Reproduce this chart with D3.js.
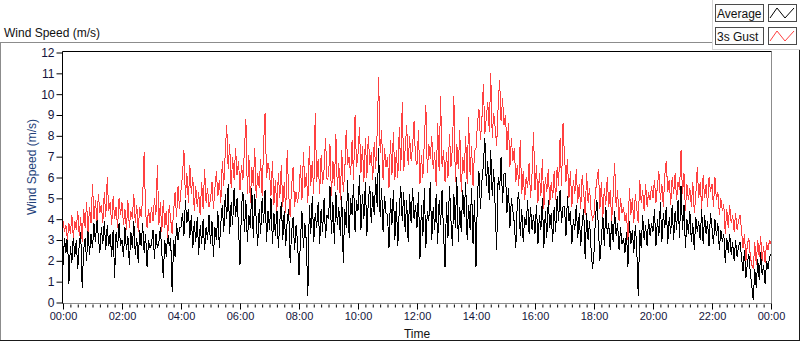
<!DOCTYPE html>
<html>
<head>
<meta charset="utf-8">
<script src="https://cdn.jsdelivr.net/npm/d3@7"></script>
<style>
  body { margin: 0; background: #fff; }
  svg { display: block; }
  text { font-family: "Liberation Sans", Arial, sans-serif; }
</style>
</head>
<body>
<svg id="chart" width="800" height="342"></svg>
<script>
// one sample every 3 minutes, 00:00 -> 24:00 (20 values per hour row)
const sampleMinutes = 3

const average = [
  1.8, 3.1, 2.4, 3.3, 0.9, 2.7, 1.9, 3.2, 2.2, 3.0, 1.6, 2.8, 3.4, 0.7, 2.5, 3.1, 2.0, 3.5, 2.3, 3.3,
  2.6, 3.8, 2.9, 4.0, 3.1, 2.4, 3.6, 2.8, 3.9, 2.5, 3.7, 2.7, 3.3, 2.2, 3.5, 1.2, 3.4, 2.6, 3.8, 2.7,
  3.0, 2.2, 3.6, 2.5, 3.2, 1.8, 3.4, 2.6, 3.9, 2.3, 3.1, 1.9, 3.5, 2.7, 3.8, 2.4, 3.3, 1.7, 3.0, 2.6,
  2.8, 3.5, 2.1, 3.3, 2.6, 2.9, 3.6, 2.4, 1.2, 3.0, 2.2, 3.4, 2.7, 3.1, 0.5, 3.0, 2.2, 3.8, 3.0, 3.6,
  3.6, 4.3, 3.2, 4.9, 3.8, 4.5, 3.1, 4.2, 2.6, 3.9, 2.9, 4.1, 2.3, 3.7, 2.8, 4.0, 2.5, 3.6, 3.0, 4.2,
  2.8, 3.9, 2.2, 3.6, 3.0, 4.4, 2.6, 3.8, 4.7, 3.4, 5.2, 4.0, 5.7, 3.3, 4.8, 3.7, 5.5, 4.1, 5.0, 3.6,
  1.8, 4.6, 5.3, 3.4, 4.9, 2.9, 4.2, 3.6, 5.5, 3.1, 5.2, 4.0, 2.7, 4.5, 3.3, 5.0, 3.8, 5.4, 2.9, 4.4,
  3.5, 5.0, 2.8, 4.3, 3.2, 4.6, 2.6, 3.9, 4.8, 3.0, 4.4, 2.7, 3.9, 4.5, 1.9, 3.4, 4.1, 2.5, 3.7, 2.9,
  1.3, 3.0, 4.4, 2.6, 3.8, 2.9, 0.3, 4.7, 3.3, 5.1, 2.9, 4.3, 3.6, 4.8, 2.8, 4.5, 3.4, 5.0, 3.1, 4.2,
  4.0, 5.6, 3.3, 4.8, 2.8, 5.3, 3.7, 4.6, 3.2, 5.1, 1.9, 4.5, 3.6, 5.9, 3.1, 5.0, 4.2, 5.7, 3.4, 4.9,
  4.4, 6.1, 3.5, 5.2, 4.0, 5.8, 3.2, 4.9, 5.6, 3.8, 5.3, 4.2, 6.0, 4.6, 7.4, 4.1, 5.5, 3.4, 5.1, 4.3,
  4.2, 2.6, 5.0, 3.7, 5.4, 3.0, 4.8, 2.7, 4.5, 5.6, 3.9, 5.3, 3.4, 4.9, 2.9, 5.2, 3.8, 5.5, 4.0, 4.7,
  3.6, 5.3, 2.1, 4.7, 3.2, 5.5, 2.6, 4.4, 3.9, 5.8, 3.0, 4.6, 3.5, 5.2, 2.8, 4.9, 3.7, 5.4, 3.3, 1.7,
  4.8, 3.1, 5.6, 4.0, 2.7, 5.2, 3.6, 6.0, 2.9, 4.6, 3.4, 5.4, 4.1, 5.8, 3.0, 4.7, 3.5, 5.5, 2.8, 4.9,
  1.7, 5.2, 6.3, 4.5, 5.8, 6.6, 7.9, 5.6, 6.8, 4.9, 7.3, 5.1, 6.4, 4.6, 2.5, 6.0, 5.4, 7.0, 4.8, 6.2,
  6.2, 4.3, 5.5, 3.6, 5.0, 4.4, 3.8, 2.6, 4.8, 5.3, 3.2, 4.5, 2.9, 4.1, 3.7, 4.9, 3.3, 4.6, 3.5, 4.2,
  3.3, 4.7, 2.8, 4.2, 3.5, 5.0, 2.6, 4.4, 3.1, 4.9, 3.6, 4.3, 2.9, 4.6, 3.4, 5.1, 3.9, 5.4, 3.8, 4.6,
  4.6, 3.2, 5.1, 3.9, 4.4, 2.8, 4.0, 3.5, 4.7, 3.1, 4.3, 2.7, 3.8, 4.5, 2.1, 4.3, 3.0, 3.9, 2.6, 1.6,
  2.4, 4.1, 4.9, 3.6, 2.0, 3.0, 4.2, 2.7, 4.6, 3.3, 3.8, 2.5, 4.0, 2.9, 4.4, 3.2, 3.8, 2.5, 3.6, 2.8,
  3.1, 2.4, 3.4, 1.7, 3.9, 2.8, 3.5, 2.4, 3.7, 2.6, 0.3, 3.5, 2.6, 4.2, 3.0, 3.7, 2.7, 4.0, 3.2, 3.8,
  3.4, 4.5, 2.7, 4.0, 3.2, 4.8, 2.9, 4.3, 3.6, 4.6, 2.8, 4.1, 3.3, 4.7, 3.0, 4.4, 3.5, 4.9, 3.1, 5.6,
  3.5, 4.7, 2.6, 4.0, 3.3, 4.4, 2.9, 3.8, 2.5, 4.1, 3.4, 3.9, 3.0, 4.5, 2.8, 4.2, 3.3, 3.9, 2.7, 4.3,
  3.6, 2.8, 4.0, 3.2, 3.8, 2.5, 3.5, 2.9, 3.3, 1.9, 3.1, 2.4, 3.3, 2.3, 2.9, 2.0, 3.0, 2.2, 2.7, 2.9,
  2.2, 1.5, 2.5, 1.2, 1.9, 2.3, 1.4, 0.8, 0.1, 1.6, 0.7, 2.1, 1.1, 2.4, 1.3, 1.8, 0.9, 2.0, 1.6, 2.2,
  2.3
]

const gust = [
  3.9, 3.4, 3.7, 3.0, 3.8, 3.3, 4.2, 3.1, 3.9, 3.5, 4.4, 3.2, 4.1, 2.9, 4.5, 3.6, 4.8, 3.4, 4.6, 3.8,
  5.7, 4.0, 4.9, 3.9, 5.2, 4.3, 4.7, 3.8, 5.3, 4.1, 6.0, 4.4, 4.8, 3.7, 5.1, 4.0, 4.6, 3.6, 5.0, 4.2,
  4.8, 3.7, 4.5, 3.5, 4.9, 3.6, 4.4, 4.0, 5.2, 3.8, 4.7, 3.4, 4.6, 4.1, 5.0, 7.2, 4.3, 3.6, 4.5, 3.8,
  4.6, 3.9, 5.0, 4.2, 6.6, 3.7, 4.8, 3.4, 4.9, 3.6, 4.4, 3.1, 4.7, 4.0, 3.3, 4.4, 5.3, 4.1, 5.6, 4.5,
  5.4, 6.1, 7.3, 5.0, 6.2, 4.8, 6.6, 5.2, 6.0, 4.4, 5.6, 4.6, 5.3, 4.2, 5.8, 4.5, 6.4, 4.8, 5.5, 4.6,
  4.9, 5.8, 4.5, 5.5, 6.3, 5.1, 5.9, 4.8, 6.8, 5.6, 7.2, 8.5, 6.4, 7.6, 5.5, 7.0, 5.9, 7.4, 6.1, 6.8,
  5.4, 6.6, 5.9, 7.3, 8.8, 5.2, 7.1, 4.8, 6.5, 5.6, 7.4, 5.0, 6.2, 5.5, 6.9, 5.1, 7.6, 9.1, 6.0, 6.7,
  6.3, 5.1, 6.8, 4.7, 5.9, 4.4, 6.2, 5.0, 6.6, 4.6, 5.8, 4.3, 7.3, 5.2, 4.1, 5.6, 6.5, 4.6, 5.3, 4.8,
  5.3, 6.6, 4.9, 7.2, 5.5, 6.2, 4.8, 7.5, 5.6, 6.8, 5.2, 9.1, 5.8, 6.9, 5.2, 7.1, 5.7, 6.4, 7.9, 5.9,
  6.0, 7.6, 5.1, 6.8, 5.6, 8.1, 5.4, 6.7, 4.9, 7.3, 5.3, 6.2, 8.3, 6.6, 7.0, 6.1, 7.8, 5.9, 9.0, 6.5,
  7.1, 8.4, 6.2, 7.5, 5.8, 7.9, 6.0, 8.0, 6.6, 7.2, 5.9, 7.7, 6.4, 8.2, 10.8, 7.2, 8.3, 5.9, 7.4, 6.5,
  7.0, 5.5, 7.8, 6.1, 8.2, 5.9, 7.3, 6.0, 8.4, 6.3, 9.6, 6.3, 7.4, 8.5, 6.6, 8.0, 6.8, 7.5, 8.7, 6.9,
  6.6, 8.3, 5.7, 7.1, 6.0, 7.8, 9.5, 6.2, 7.6, 6.9, 8.0, 6.4, 7.2, 5.6, 8.6, 6.3, 9.9, 6.5, 7.3, 5.8,
  7.2, 6.0, 8.1, 6.5, 7.4, 9.9, 5.8, 7.6, 6.4, 8.3, 5.3, 7.0, 6.2, 8.0, 5.7, 8.9, 6.1, 7.5, 5.6, 7.3,
  7.4, 8.6, 9.3, 7.8, 8.8, 10.5, 8.1, 8.9, 9.6, 8.2, 11.0, 7.9, 9.1, 8.4, 7.5, 9.4, 10.7, 8.7, 9.8, 8.5,
  9.0, 7.3, 8.6, 6.5, 7.9, 6.8, 7.4, 5.8, 6.6, 5.6, 7.8, 5.2, 6.3, 4.9, 6.0, 5.5, 6.7, 5.0, 6.2, 8.2,
  5.4, 6.6, 4.8, 6.2, 5.1, 6.9, 4.5, 6.0, 5.3, 6.4, 4.7, 5.8, 5.0, 6.3, 4.9, 6.5, 5.6, 7.9, 5.6, 8.6,
  7.0, 5.8, 6.9, 5.0, 6.3, 4.6, 5.9, 5.2, 6.4, 4.8, 5.7, 4.5, 6.1, 5.3, 4.2, 6.2, 4.8, 5.5, 4.4, 4.0,
  4.2, 5.3, 5.9, 6.4, 4.5, 5.8, 4.1, 5.5, 4.7, 6.0, 4.6, 5.4, 3.9, 5.2, 6.7, 4.6, 5.4, 3.9, 5.0, 4.3,
  4.6, 3.9, 4.3, 3.0, 5.5, 4.2, 5.0, 3.8, 5.2, 4.5, 3.8, 5.9, 4.8, 5.4, 4.4, 5.7, 4.6, 5.3, 4.9, 5.6,
  5.0, 5.9, 4.8, 5.6, 6.3, 4.9, 5.7, 4.6, 6.1, 6.8, 5.3, 5.9, 4.7, 6.0, 5.2, 6.2, 4.9, 5.8, 5.4, 7.3,
  5.2, 6.2, 4.4, 5.7, 4.9, 5.5, 4.6, 5.8, 4.3, 5.1, 6.5, 5.0, 5.8, 4.5, 6.1, 5.0, 5.7, 4.6, 6.0, 5.3,
  5.7, 4.6, 6.0, 4.9, 5.3, 4.2, 5.0, 4.4, 4.7, 3.3, 4.5, 3.6, 4.7, 3.8, 4.2, 3.4, 4.3, 3.5, 3.9, 4.2,
  3.5, 2.6, 3.3, 2.0, 2.8, 3.1, 2.2, 1.8, 1.6, 2.9, 1.8, 3.0, 2.2, 3.2, 2.0, 2.7, 1.9, 2.9, 2.5, 3.0,
  2.8
]

const yTicks = [0, 1, 2, 3, 4, 5, 6, 7, 8, 9, 10, 11, 12]
const timeTicks = [0, 2, 4, 6, 8, 10, 12, 14, 16, 18, 20, 22, 24]
const timeLabels = ['00:00', '02:00', '04:00', '06:00', '08:00', '10:00', '12:00',
                    '14:00', '16:00', '18:00', '20:00', '22:00', '00:00']
const seriesNames = ['Average', '3s Gust']
const seriesColors = ['#000000', '#ff4040']

const svg = d3.select('#chart')

const plot = { left: 62.5, right: 771.5, top: 51.5, bottom: 303.5 }

const xScale = d3.scaleLinear().domain([0, 24]).range([63, 771])
const yScale = d3.scaleLinear().domain([0, 12]).range([302.5, 52.5])

// outer panel
svg.append('line').attr('x1', 0).attr('x2', 712).attr('y1', 42.5).attr('y2', 42.5).attr('stroke', '#8c8c8c')
svg.append('line').attr('x1', 0.5).attr('x2', 0.5).attr('y1', 42).attr('y2', 341).attr('stroke', '#8c8c8c')
svg.append('line').attr('x1', 0).attr('x2', 800).attr('y1', 340.5).attr('y2', 340.5).attr('stroke', '#1a1a1a')
svg.append('line').attr('x1', 799.5).attr('x2', 799.5).attr('y1', 49).attr('y2', 341).attr('stroke', '#1a1a1a')

svg.append('text')
    .attr('x', 4).attr('y', 36.5)
    .attr('font-size', 12).attr('fill', '#111')
    .text('Wind Speed (m/s)')

// legend panel
svg.append('line').attr('x1', 712.5).attr('x2', 712.5).attr('y1', 0).attr('y2', 49.5).attr('stroke', '#d4d4d4')
svg.append('line').attr('x1', 712).attr('x2', 800).attr('y1', 49.5).attr('y2', 49.5).attr('stroke', '#d4d4d4')

const legend = svg.append('g')
seriesNames.forEach((name, i) => {
    const y0 = 4 + i * 23
    legend.append('rect')
        .attr('x', 715.5).attr('y', y0 + 0.5).attr('width', 48).attr('height', 17)
        .attr('fill', '#fcfcfc').attr('stroke', '#4a4a4a')
    legend.append('text')
        .attr('x', 717).attr('y', y0 + 13.5)
        .attr('font-size', 12).attr('fill', '#111')
        .text(name)
    legend.append('rect')
        .attr('x', 768.5).attr('y', y0 + 0.5).attr('width', 28).attr('height', 17)
        .attr('fill', '#fff').attr('stroke', '#4a4a4a')
    legend.append('path')
        .attr('d', d3.line()([[770, y0 + 14], [777, y0 + 4], [785, y0 + 14], [794, y0 + 4]]))
        .attr('fill', 'none').attr('stroke', seriesColors[i]).attr('stroke-width', 1)
})

// plot frame
svg.append('rect')
    .attr('x', plot.left).attr('y', plot.top)
    .attr('width', plot.right - plot.left).attr('height', plot.bottom - plot.top)
    .attr('fill', '#fff')
svg.append('line').attr('x1', plot.left).attr('x2', plot.right).attr('y1', plot.bottom).attr('y2', plot.bottom).attr('stroke', '#8c8c8c')
svg.append('line').attr('x1', plot.right).attr('x2', plot.right).attr('y1', plot.top).attr('y2', plot.bottom).attr('stroke', '#8c8c8c')

svg.append('clipPath').attr('id', 'clip')
    .append('rect')
    .attr('x', plot.left).attr('y', plot.top)
    .attr('width', plot.right - plot.left).attr('height', plot.bottom - plot.top)

const timeOf = i => i * sampleMinutes / 60
const lineGenerator = d3.line()
    .x((d, i) => xScale(timeOf(i)))
    .y(d => yScale(d))

const lines = svg.append('g').attr('clip-path', 'url(#clip)')
;[average, gust].forEach((series, i) => {
    lines.append('path')
        .attr('d', lineGenerator(series))
        .attr('fill', 'none')
        .attr('stroke', seriesColors[i])
        .attr('stroke-width', 1)
        .attr('shape-rendering', 'crispEdges')
})

svg.append('line').attr('x1', plot.left).attr('x2', plot.right).attr('y1', plot.top).attr('y2', plot.top).attr('stroke', '#000')
svg.append('line').attr('x1', plot.left).attr('x2', plot.left).attr('y1', plot.top).attr('y2', plot.bottom).attr('stroke', '#000')

// y axis
const yAxis = d3.axisLeft(yScale)
    .tickValues(yTicks)
    .tickSize(6)
    .tickPadding(2)
    .tickFormat(d3.format('d'))

const yAxisG = svg.append('g').attr('transform', `translate(${plot.left},0)`).call(yAxis)
yAxisG.select('.domain').remove()
yAxisG.selectAll('text')
    .attr('font-family', '"Liberation Sans", Arial, sans-serif')
    .attr('font-size', 12).attr('fill', '#14143c')

svg.append('text')
    .attr('transform', `translate(36,167) rotate(-90)`)
    .attr('text-anchor', 'middle')
    .attr('font-size', 12).attr('fill', '#24427a')
    .text('Wind Speed (m/s)')

// x axis
const xMinor = d3.axisBottom(xScale)
    .tickValues(d3.range(0, 24.01, 0.25))
    .tickSize(3)
    .tickFormat('')
const xMinorG = svg.append('g').attr('transform', `translate(0,${plot.bottom + 1})`).call(xMinor)
xMinorG.select('.domain').remove()

const xAxis = d3.axisBottom(xScale)
    .tickValues(timeTicks)
    .tickSize(6)
    .tickPadding(3)
    .tickFormat((d, i) => timeLabels[i])
const xAxisG = svg.append('g').attr('transform', `translate(0,${plot.bottom})`).call(xAxis)
xAxisG.select('.domain').remove()
xAxisG.selectAll('text')
    .attr('font-family', '"Liberation Sans", Arial, sans-serif')
    .attr('font-size', 11).attr('fill', '#14143c')

svg.append('text')
    .attr('x', (plot.left + plot.right) / 2).attr('y', 338)
    .attr('text-anchor', 'middle')
    .attr('font-size', 12).attr('fill', '#111')
    .text('Time')
</script>
</body>
</html>
